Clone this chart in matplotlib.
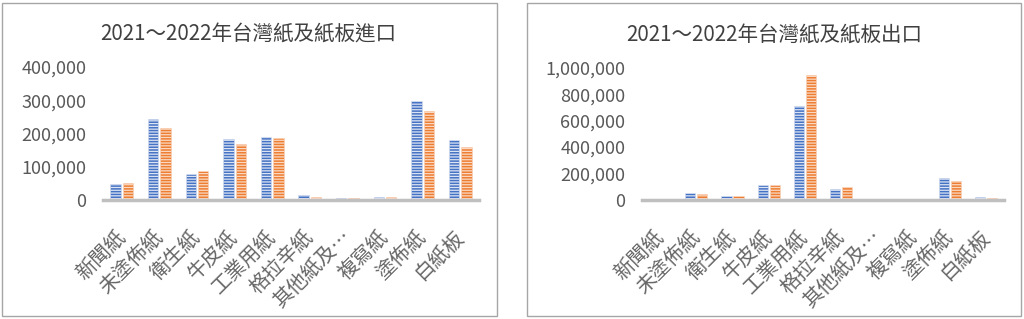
import matplotlib
matplotlib.use("Agg")
import matplotlib.pyplot as plt
from matplotlib.patches import Rectangle
from matplotlib.ticker import FuncFormatter

plt.rcParams['font.family'] = ['Noto Sans CJK TC', 'DejaVu Sans']
plt.rcParams['hatch.linewidth'] = 0.9

categories = ["新聞紙", "未塗佈紙", "衛生紙", "牛皮紙", "工業用紙", "格拉辛紙",
              "其他紙及…", "複寫紙", "塗佈紙", "白紙板"]

import_2021 = [47600, 244000, 79000, 184000, 189000, 15000, 5000, 8000, 297000, 180000]
import_2022 = [51500, 216000, 88000, 167000, 186000, 8000, 5000, 8000, 269000, 158000]

export_2021 = [0, 50000, 30000, 111000, 710000, 83000, 5000, 0, 169000, 23000]
export_2022 = [0, 45000, 30000, 116000, 942000, 101000, 0, 0, 146000, 18000]

titles = ["2021～2022年台灣紙及紙板進口", "2021～2022年台灣紙及紙板出口"]
yticks_import = [0, 100000, 200000, 300000, 400000]
yticks_export = [0, 200000, 400000, 600000, 800000, 1000000]

BLUE = "#4472C4"
ORANGE = "#ED7D31"
TXT = "#595959"

W, H = 1024, 319
fig = plt.figure(figsize=(W / 100, H / 100), dpi=100)

def fx(px):
    return px / W

def fy(py):
    return 1 - py / H

# panel borders
for x0, x1 in [(2, 497), (527, 1021)]:
    fig.patches.append(Rectangle((fx(x0), fy(316)), fx(x1 - x0), (313) / H,
                                 transform=fig.transFigure, fill=False,
                                 edgecolor="#A6A6A6", linewidth=1.0))

panels = [
    dict(data=(import_2021, import_2022), ticks=yticks_import, ymax=400000,
         x0=103, x1=479, ytop=67, title=titles[0], tx=248),
    dict(data=(export_2021, export_2022), ticks=yticks_export, ymax=1000000,
         x0=642, x1=1004, ytop=67.7, title=titles[1], tx=774),
]

ybase = 200
xs = list(range(len(categories)))
bw = 0.28
off = 0.165

for p in panels:
    ax = fig.add_axes([fx(p["x0"]), fy(ybase), fx(p["x1"] - p["x0"]), (ybase - p["ytop"]) / H])
    d1, d2 = p["data"]
    ax.bar([x - off for x in xs], d1, width=bw, color=BLUE, edgecolor="#DCE3F2",
           hatch="------", linewidth=0.4, zorder=2)
    ax.bar([x + off for x in xs], d2, width=bw, color=ORANGE, edgecolor="#F9D9C4",
           hatch="------", linewidth=0.4, zorder=2)
    ax.set_xlim(-0.5, len(categories) - 0.5)
    ax.set_ylim(0, p["ymax"])
    ax.set_yticks(p["ticks"])
    ax.yaxis.set_major_formatter(FuncFormatter(lambda v, pos: f"{int(v):,}"))
    for s in ["top", "right", "left"]:
        ax.spines[s].set_visible(False)
    ax.spines["bottom"].set_color("#BFBFBF")
    ax.spines["bottom"].set_linewidth(2.5)
    ax.spines["bottom"].set_zorder(3)
    ax.tick_params(axis="y", length=0, pad=12, labelsize=13, labelcolor=TXT)
    ax.tick_params(axis="x", length=0, pad=24)
    ax.set_xticks(xs)
    ax.set_xticklabels(categories, rotation=45, ha="right", va="center",
                       rotation_mode="anchor", fontsize=14.5, color="#666666")
    ax.patch.set_visible(False)
    fig.text(fx(p["tx"]), fy(35), p["title"], ha="center", va="center",
             fontsize=14.8, color="#404040")

fig.savefig("out.png", dpi=100)
